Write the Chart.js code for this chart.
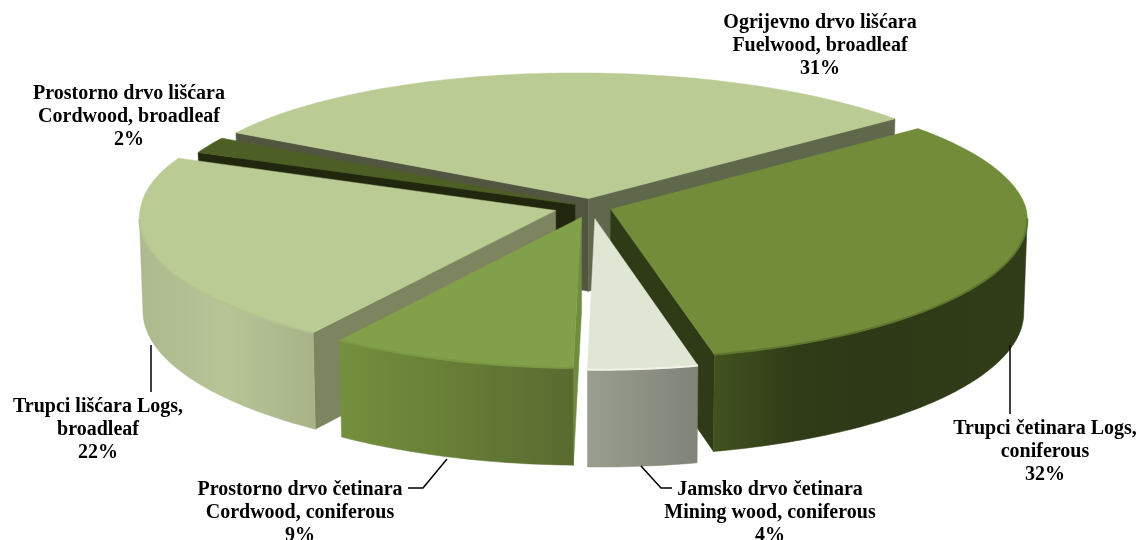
<!DOCTYPE html>
<html lang="en">
<head>
    <meta charset="UTF-8">
    <title>Wood assortments</title>
    <script src="https://cdn.jsdelivr.net/npm/chart.js"></script>
    <style>
        html, body { margin: 0; padding: 0; background: #fff; overflow: hidden; }
        canvas { display: block; }
    </style>
</head>
<body>
<canvas id="pieChart" width="1140" height="540"></canvas>
<script>
    // values, clockwise from the back-left slice
    const values = [31, 32, 4, 9, 22, 2];
    const namesLocal = ['Ogrijevno drvo lišćara', 'Trupci četinara Logs,', 'Jamsko drvo četinara', 'Prostorno drvo četinara', 'Trupci lišćara Logs,', 'Prostorno drvo lišćara'];
    const namesEnglish = ['Fuelwood, broadleaf', 'coniferous', 'Mining wood, coniferous', 'Cordwood, coniferous', 'broadleaf', 'Cordwood, broadleaf'];

    // styles
    const topColors = ['#bacb93', '#728c39', '#dfe6d3', '#82a04a', '#bacb93', '#4d5f24'];
    const startFaceColors = ['#525640', '#2f3a17', '#9ea293', '#6f8c3f', '#7c8560', '#20270e'];
    const endFaceColors = ['#5f684b', '#2f3a17', '#9ea293', '#6f8c3f', '#7c8560', '#20270e'];
    const wallStops = [
        ['#9aa87a', '#9aa87a'],
        ['#42521f', '#303c18', '#2e3917', '#2f3a17', '#313d18'],
        ['#9a9e8f', '#808378'],
        ['#748f3d', '#5a6b30'],
        ['#adb98e', '#b6c496', '#a8b488'],
        ['#3a4719', '#3a4719']
    ];
    const rimColors = ['#bacb93', '#5f7630', '#f0f3e6', '#7c9845', '#b4c490', '#4d5f24'];
    // explosion of each slice, px on the flat chart
    const explode = [16, 13, 22, 20, 23, 11];
    const drawOrder = [0, 5, 4, 1, 2, 3];

    // how the flat pie is laid into perspective
    const view = {cx: 591, cy: 207, scaleX: 415, scaleY: 137, perspX: 0.06, perspY: 0.08, shearBack: 12, shearFront: 4, depth: 93, taper: 0.992};

    const labelPlaces = [[820, 22.5], [1045, 428.5], [770, 489.5], [300, 489.5], [98, 406.5], [129, 93.5]];
    const leaders = [
        [[1010, 345], [1010, 414]],
        [[641, 466], [661, 488], [672, 488]],
        [[447, 459], [423, 488], [408, 488]],
        [[151, 345], [151, 392]]
    ];

    function project(px, py, c) {
        const u = (px - c.x) / c.r, v = (py - c.y) / c.r;
        const shear = v < 0 ? view.shearBack : view.shearFront;
        return {
            x: view.cx + view.scaleX * u / (1 - view.perspX * v) + shear * v,
            y: view.cy + view.scaleY * v / (1 - view.perspY * v),
            drop: view.depth + 4 * v
        };
    }

    function below(p) {
        return {x: view.cx + (p.x - view.cx) * view.taper, y: p.y + p.drop};
    }

    function tracePoly(ctx, pts) {
        ctx.beginPath();
        pts.forEach((p, i) => i ? ctx.lineTo(p.x, p.y) : ctx.moveTo(p.x, p.y));
    }

    function fillPoly(ctx, pts, fill) {
        tracePoly(ctx, pts);
        ctx.closePath();
        ctx.fillStyle = fill;
        ctx.fill();
        ctx.strokeStyle = fill;
        ctx.lineWidth = 0.5;
        ctx.lineJoin = 'round';
        ctx.stroke();
    }

    const pie3d = {
        id: 'pie3d',
        beforeDatasetDraw(chart) {
            const ctx = chart.ctx;
            const arcs = chart.getDatasetMeta(0).data;
            drawOrder.forEach(i => {
                const arc = arcs[i];
                const {x, y, startAngle, endAngle, outerRadius} = arc.getProps(['x', 'y', 'startAngle', 'endAngle', 'outerRadius'], true);
                const mid = (startAngle + endAngle) / 2;
                const off = arc.options.offset;
                const c = {x: x, y: y, r: outerRadius};
                const ox = x + off * Math.cos(mid), oy = y + off * Math.sin(mid);
                const apex = project(ox, oy, c);
                const rim = [];
                const steps = Math.max(8, Math.round((endAngle - startAngle) * 60));
                for (let s = 0; s <= steps; s++) {
                    const a = startAngle + (endAngle - startAngle) * s / steps;
                    rim.push(project(ox + outerRadius * Math.cos(a), oy + outerRadius * Math.sin(a), c));
                }
                const first = rim[0], last = rim[rim.length - 1];

                // cut faces: start edge shows if it runs left of the apex, end edge if right
                if (first.x < apex.x) {
                    fillPoly(ctx, [apex, first, below(first), below(apex)], startFaceColors[i]);
                }
                if (last.x > apex.x) {
                    fillPoly(ctx, [apex, last, below(last), below(apex)], endFaceColors[i]);
                }

                // outer wall: only rim segments running right to left are in front
                const front = rim.filter((p, k) => (k < rim.length - 1 && rim[k + 1].x < p.x) || (k > 0 && p.x < rim[k - 1].x));
                if (front.length > 1) {
                    const xs = front.map(p => p.x);
                    const grad = ctx.createLinearGradient(Math.min(...xs), 0, Math.max(...xs), 0);
                    const stops = wallStops[i];
                    stops.forEach((col, k) => grad.addColorStop(k / (stops.length - 1), col));
                    fillPoly(ctx, front.concat(front.slice().reverse().map(below)), grad);
                }

                fillPoly(ctx, [apex].concat(rim), arc.options.backgroundColor);

                // soft bevel where the top meets the wall
                if (front.length > 1) {
                    tracePoly(ctx, front);
                    ctx.strokeStyle = rimColors[i];
                    ctx.lineWidth = 2;
                    ctx.lineCap = 'butt';
                    ctx.stroke();
                }
            });
            return false;
        },
        afterDraw(chart) {
            const ctx = chart.ctx;
            ctx.save();
            ctx.strokeStyle = '#000';
            ctx.lineWidth = 1.5;
            leaders.forEach(line => {
                ctx.beginPath();
                line.forEach((p, i) => i ? ctx.lineTo(p[0], p[1]) : ctx.moveTo(p[0], p[1]));
                ctx.stroke();
            });
            ctx.fillStyle = '#000';
            ctx.font = 'bold 20px "Liberation Serif"';
            ctx.textAlign = 'center';
            ctx.textBaseline = 'middle';
            values.forEach((val, i) => {
                const [lx, ly] = labelPlaces[i];
                ctx.fillText(namesLocal[i], lx, ly);
                ctx.fillText(namesEnglish[i], lx, ly + 23);
                ctx.fillText(val + '%', lx, ly + 46.5);
            });
            ctx.restore();
        }
    };

    new Chart(document.getElementById('pieChart').getContext('2d'), {
        type: 'pie',
        data: {
            labels: namesLocal,
            datasets: [{
                data: values,
                backgroundColor: topColors,
                borderWidth: 0,
                offset: explode
            }]
        },
        options: {
            responsive: false,
            animation: false,
            rotation: -59.7,
            plugins: {legend: {display: false}, tooltip: {enabled: false}}
        },
        plugins: [pie3d]
    });
</script>
</body>
</html>
